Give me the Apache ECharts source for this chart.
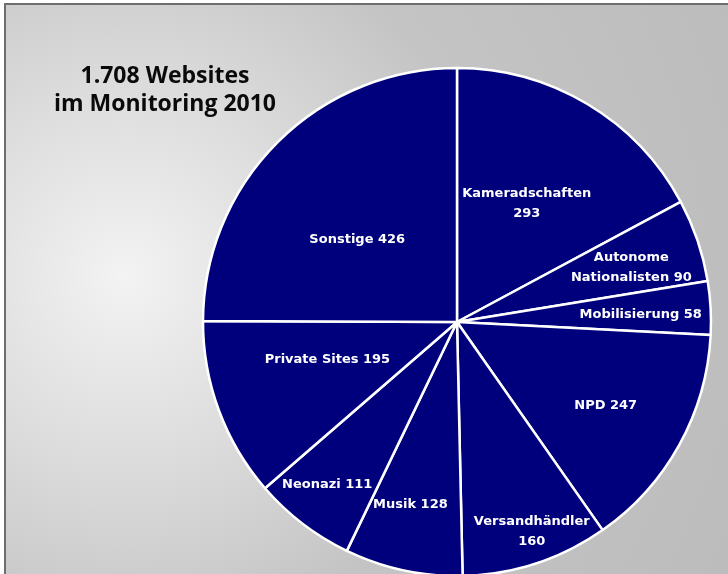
<!DOCTYPE html>
<html>
<head>
<meta charset="utf-8">
<script src="https://cdn.jsdelivr.net/npm/echarts@6/dist/echarts.min.js"></script>
<style>
html, body { margin: 0; padding: 0; background: #fff; }
.frame {
    position: absolute; left: 4px; top: 3px;
    width: 724px; height: 571px; box-sizing: border-box;
    border-top: 2px solid #6e6e6e; border-left: 2px solid #6e6e6e;
    background: radial-gradient(circle at 120px 270px, #f3f3f3 0%, #dcdcdc 28%, #c4c4c4 55%, #bcbcbc 100%);
}
#chart { width: 100%; height: 100%; }
</style>
</head>
<body>
<div class="frame"><div id="chart"></div></div>
<script>
// Kategorien (im Uhrzeigersinn ab 12 Uhr)
var names = [
    'Kameradschaften', 'Autonome\nNationalisten', 'Mobilisierung', 'NPD',
    'Versandhändler', 'Musik', 'Neonazi', 'Private Sites', 'Sonstige'
];
// Anzahl Websites
var counts = [293, 90, 58, 247, 160, 128, 111, 195, 426];
// Trenner zwischen Name und Zahl (Zeilenumbruch oder Leerzeichen)
var joins = ['\n', ' ', ' ', ' ', '\n', ' ', ' ', ' ', ' '];
// Abstand des Labels vom Mittelpunkt
var labelRadius = [132, 182, 185, 170, 218, 187, 207, 135, 130];
// kleine Korrekturen der Labelposition [dx, dy]
var labelNudge = [[2, -5], [2, 4], [-1, 3], [0, 1], [7, 2], [-7, 0], [-4, -2], [-3, -9], [-8, 10]];

var cx = 451, cy = 317, R = 254;

var chart = echarts.init(document.getElementById('chart'));

var total = counts.reduce(function (a, b) { return a + b; }, 0);
var midAngles = [];
var acc = 0;
counts.forEach(function (v) {
    midAngles.push((acc + v / 2) / total * 2 * Math.PI);
    acc += v;
});

var option = {
    backgroundColor: 'transparent',
    animation: false,
    title: {
        text: '1.708 Websites\nim Monitoring 2010',
        left: 154,
        top: 52,
        textAlign: 'center',
        textStyle: {
            color: '#0a0a0a',
            fontFamily: 'Open Sans',
            fontWeight: 700,
            fontSize: 23,
            lineHeight: 28
        }
    },
    series: [{
        type: 'pie',
        center: [cx, cy],
        radius: R,
        startAngle: 90,
        clockwise: true,
        silent: true,
        itemStyle: {
            color: '#00007d',
            borderColor: '#fff',
            borderWidth: 2.5
        },
        label: {
            show: true,
            position: 'inside',
            color: '#fff',
            fontFamily: 'DejaVu Sans',
            fontWeight: 'bold',
            fontSize: 13,
            lineHeight: 20,
            align: 'center',
            formatter: function (p) {
                return names[p.dataIndex] + joins[p.dataIndex] + counts[p.dataIndex];
            }
        },
        labelLine: { show: false },
        labelLayout: function (p) {
            var i = p.dataIndex;
            var a = midAngles[i];
            return {
                x: cx + labelRadius[i] * Math.sin(a) + labelNudge[i][0],
                y: cy - labelRadius[i] * Math.cos(a) + labelNudge[i][1],
                align: 'center',
                verticalAlign: 'middle'
            };
        },
        data: counts.map(function (v, i) {
            return { name: names[i], value: v };
        })
    }]
};

chart.setOption(option);
</script>
</body>
</html>
